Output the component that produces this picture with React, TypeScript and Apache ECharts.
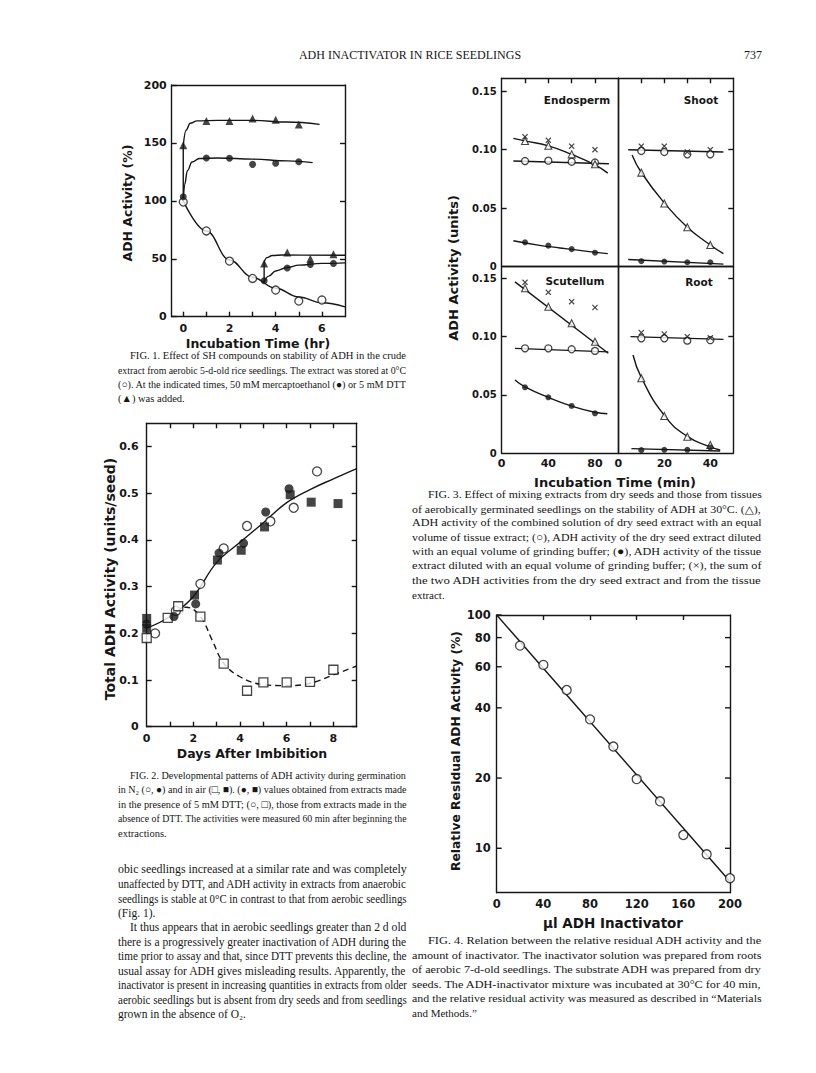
import React, { useEffect, useRef } from "react";
import * as echarts from "echarts";

const SANS = "'DejaVu Sans', 'Liberation Sans', sans-serif";
const SERIF = "'Liberation Serif', 'DejaVu Serif', serif";
const INK = "#161616";

// ---------------- Fig. 1 data ----------------
const f1LabelsX = [0, 2, 4, 6];
const f1TicksX = [0, 1, 2, 3, 4, 5, 6];
const f1TicksY = [0, 50, 100, 150, 200];
const f1Open = [[0, 99], [1, 74], [2, 48], [3, 33], [4, 23], [5, 13.5], [6, 14.4]];
const f1Merc = [[0, 103.6], [1, 137], [2, 136.7], [3, 131.5], [4, 132.4], [5, 133.8]];
const f1Dtt = [[0, 148], [1, 169], [2, 169], [3, 171], [4, 170], [5, 166]];
const f1MercLate = [[3.5, 31], [4.5, 42], [5.5, 45], [6.5, 46]];
const f1DttLate = [[3.5, 46], [4.5, 55.5], [5.5, 50], [6.5, 54]];
const f1OpenCurve = [[0, 100], [1, 74], [2, 49], [3, 34], [4, 24.5], [5, 17], [6, 12], [7, 8.5]];
const f1DttRise = [[0, 100], [0, 148]];
const f1DttCurve = [[0, 148], [0.12, 161], [0.3, 167], [0.6, 169], [1.5, 169.5], [3, 169.5], [4.5, 168], [5.9, 166]];
const f1MercCurve = [[0, 100], [0.06, 114], [0.18, 126], [0.38, 133.5], [0.7, 136.5], [1.5, 137], [3, 136], [4.5, 134.5], [5.6, 133]];
const f1DttLateRise = [[3.5, 30], [3.5, 47]];
const f1DttLateCurve = [[3.5, 47], [3.62, 51], [3.85, 52.8], [4.3, 53.2], [7, 53]];
const f1MercLateCurve = [[3.5, 30], [3.7, 35], [4, 39.5], [4.5, 42.5], [5, 44.5], [6, 46], [7, 46.5]];

// ---------------- Fig. 2 data ----------------
const f2LabelsX = [0, 2, 4, 6, 8];
const f2TicksX = [1, 2, 3, 4, 5, 6, 7, 8];
const f2TicksY = [0, 0.1, 0.2, 0.3, 0.4, 0.5, 0.6];
const f2OpenCircle = [[0.36, 0.2], [1.25, 0.248], [2.3, 0.306], [3.3, 0.382], [4.3, 0.43], [5.3, 0.44], [6.3, 0.469], [7.3, 0.547]];
const f2FilledCircle = [[0, 0.22], [1.17, 0.236], [2.1, 0.263], [3.1, 0.372], [4.15, 0.393], [5.1, 0.46], [6.1, 0.51]];
const f2FilledSquare = [[0, 0.232], [0, 0.211], [2.05, 0.282], [3.03, 0.357], [4.05, 0.378], [5.05, 0.428], [6.15, 0.497], [7.05, 0.481], [8.2, 0.478]];
const f2OpenSquare = [[0, 0.19], [0.9, 0.233], [1.35, 0.258], [2.3, 0.236], [3.3, 0.135], [4.3, 0.077], [5.0, 0.095], [6.0, 0.095], [7.0, 0.096], [8.0, 0.122]];
const f2SolidCurve = [[0, 0.211], [1, 0.236], [2, 0.279], [3, 0.352], [4, 0.395], [5, 0.437], [6, 0.48], [7, 0.508], [8, 0.531], [9, 0.553]];
const f2DashCurve = [[1.2, 0.249], [1.7, 0.256], [2.3, 0.236], [2.8, 0.186], [3.3, 0.136], [4, 0.107], [5, 0.09], [6, 0.088], [7, 0.093], [8, 0.111], [9, 0.13]];

// ---------------- Fig. 3 data ----------------
const f3LabelsY = [0, 0.05, 0.1, 0.15];
const f3TicksY = [0.05, 0.1, 0.15];
const f3LeftTicksX = [20, 40, 60, 80];
const f3LeftLabelsX = [0, 40, 80];
const f3RightTicksX = [10, 20, 30, 40];
const f3RightLabelsX = [0, 20, 40];
// Endosperm
const endoX = [[20, 0.111], [40, 0.108], [60, 0.103], [80, 0.1]];
const endoTri = [[20, 0.1074], [40, 0.1034], [60, 0.096], [80, 0.0875]];
const endoOpen = [[20, 0.0903], [40, 0.0906], [60, 0.0897], [80, 0.089]];
const endoFilled = [[20, 0.0208], [40, 0.018], [60, 0.015], [80, 0.012]];
const endoTriCurve = [[10, 0.1097], [20, 0.1075], [40, 0.1033], [60, 0.096], [80, 0.087], [91, 0.08]];
const endoOpenLine = [[10, 0.0903], [92, 0.088]];
const endoFilledCurve = [[10, 0.0222], [30, 0.0187], [50, 0.016], [70, 0.0135], [91, 0.0112]];
// Shoot
const shootX = [[10, 0.103], [20, 0.103], [30, 0.098], [40, 0.1]];
const shootOpen = [[10, 0.0989], [20, 0.098], [30, 0.096], [40, 0.096]];
const shootTri = [[10, 0.0804], [20, 0.054], [30, 0.0337], [40, 0.0185]];
const shootFilled = [[10, 0.0047], [20, 0.0044], [30, 0.0038], [40, 0.0038]];
const shootOpenLine = [[4.3, 0.1], [45.7, 0.098]];
const shootTriCurve = [[6, 0.0955], [10, 0.0805], [20, 0.0545], [30, 0.0338], [40, 0.0185], [45.7, 0.0112]];
const shootFilledLine = [[4.3, 0.0062], [45.7, 0.0022]];
// Scutellum
const scutX = [[20, 0.1466], [40, 0.138], [60, 0.13], [80, 0.125]];
const scutTri = [[20, 0.1415], [40, 0.1257], [60, 0.1115], [80, 0.0957]];
const scutOpen = [[20, 0.09], [40, 0.09], [60, 0.0892], [80, 0.0878]];
const scutFilled = [[20, 0.0566], [40, 0.048], [60, 0.0406], [80, 0.0343]];
const scutTriLine = [[11.4, 0.147], [91.4, 0.0858]];
const scutOpenLine = [[11.4, 0.09], [91.4, 0.087]];
const scutFilledCurve = [[11.4, 0.0629], [20, 0.057], [40, 0.048], [60, 0.0405], [80, 0.0352], [90.6, 0.0339]];
// Root
const rootX = [[10, 0.1035], [20, 0.1023], [30, 0.1], [40, 0.099]];
const rootOpen = [[10, 0.0986], [20, 0.0986], [30, 0.0966], [40, 0.097]];
const rootTri = [[10, 0.0643], [20, 0.032], [30, 0.0142], [40, 0.0071]];
const rootFilled = [[10, 0.0027], [20, 0.003], [30, 0.003], [40, 0.005]];
const rootOpenLine = [[5.3, 0.1], [45.7, 0.0977]];
const rootTriCurve = [[6.4, 0.0843], [10, 0.065], [20, 0.0325], [30, 0.0145], [40, 0.0055], [44.3, 0.0028]];
const rootFilledLine = [[5.7, 0.004], [44.3, 0.002]];

// ---------------- Fig. 4 data ----------------
const f4Inactivator = [20, 40, 60, 80, 100, 120, 140, 160, 180, 200];
const f4Residual = [73.9, 61.1, 47.7, 35.7, 27.3, 19.8, 15.9, 11.4, 9.42, 7.44];
const f4FitLine = [[0, 100], [200, 7.2]];
const f4LabelsY = [10, 20, 40, 60, 80, 100];
const f4LabelsX = [0, 40, 80, 120, 160, 200];
const f4TicksTopX = [40, 80, 120, 160];

// ---------------- page text ----------------
const header = "ADH INACTIVATOR IN RICE SEEDLINGS";
const pageNo = "737";
const fig1Caption = [
  "FIG. 1. Effect of SH compounds on stability of ADH in the crude",
  "extract from aerobic 5-d-old rice seedlings. The extract was stored at 0°C",
  "(○). At the indicated times, 50 mM mercaptoethanol (●) or 5 mM DTT",
  "(▲) was added.",
];
const fig2Caption = [
  "FIG. 2. Developmental patterns of ADH activity during germination",
  "in N₂ (○, ●) and in air (□, ■). (●, ■) values obtained from extracts made",
  "in the presence of 5 mM DTT; (○, □), those from extracts made in the",
  "absence of DTT. The activities were measured 60 min after beginning the",
  "extractions.",
];
const bodyText = [
  "obic seedlings increased at a similar rate and was completely",
  "unaffected by DTT, and ADH activity in extracts from anaerobic",
  "seedlings is stable at 0°C in contrast to that from aerobic seedlings",
  "(Fig. 1).",
  "It thus appears that in aerobic seedlings greater than 2 d old",
  "there is a progressively greater inactivation of ADH during the",
  "time prior to assay and that, since DTT prevents this decline, the",
  "usual assay for ADH gives misleading results. Apparently, the",
  "inactivator is present in increasing quantities in extracts from older",
  "aerobic seedlings but is absent from dry seeds and from seedlings",
  "grown in the absence of O₂.",
];
const fig3Caption = [
  "FIG. 3. Effect of mixing extracts from dry seeds and those from tissues",
  "of aerobically germinated seedlings on the stability of ADH at 30°C. (△),",
  "ADH activity of the combined solution of dry seed extract with an equal",
  "volume of tissue extract; (○), ADH activity of the dry seed extract diluted",
  "with an equal volume of grinding buffer; (●), ADH activity of the tissue",
  "extract diluted with an equal volume of grinding buffer; (×), the sum of",
  "the two ADH activities from the dry seed extract and from the tissue",
  "extract.",
];
const fig4Caption = [
  "FIG. 4. Relation between the relative residual ADH activity and the",
  "amount of inactivator. The inactivator solution was prepared from roots",
  "of aerobic 7-d-old seedlings. The substrate ADH was prepared from dry",
  "seeds. The ADH-inactivator mixture was incubated at 30°C for 40 min,",
  "and the relative residual activity was measured as described in “Materials",
  "and Methods.”",
];

// ---------------- styling helpers ----------------
const LW = 1.4;
const LINE = { color: INK, width: LW };
const CROSS = "path://M0,1.4L1.4,0L5,3.6L8.6,0L10,1.4L6.4,5L10,8.6L8.6,10L5,6.4L1.4,10L0,8.6L3.6,5Z";

type AxCfg = {
  grid: number;
  min: number;
  max: number;
  pos: string;
  ticks?: number[] | null;
  labels?: number[] | null;
  fmt?: (v: number) => string;
  size?: number;
  margin?: number;
  log?: boolean;
};

function axis(c: AxCfg) {
  const a: any = {
    type: c.log ? "log" : "value",
    gridIndex: c.grid,
    min: c.min,
    max: c.max,
    position: c.pos,
    axisLine: { show: true, onZero: false, lineStyle: LINE },
    axisTick: c.ticks
      ? { show: true, inside: true, length: 5, lineStyle: LINE, customValues: c.ticks }
      : { show: false },
    axisLabel: c.labels
      ? {
          show: true,
          customValues: c.labels,
          formatter: c.fmt || ((v: number) => String(v)),
          color: INK,
          fontFamily: SANS,
          fontWeight: "bold",
          fontSize: c.size || 11,
          margin: c.margin ?? 5,
        }
      : { show: false },
    splitLine: { show: false },
    minorTick: { show: false },
  };
  if (c.log) a.logBase = 10;
  return a;
}

const sym = {
  openCircle: { symbol: "circle", symbolSize: 8, itemStyle: { color: "#fff", borderColor: INK, borderWidth: 1.3 } },
  filledCircle: { symbol: "circle", symbolSize: 7, itemStyle: { color: INK } },
  filledTri: { symbol: "triangle", symbolSize: 8, itemStyle: { color: INK } },
  openTri: { symbol: "triangle", symbolSize: 7, itemStyle: { color: "#fff", borderColor: INK, borderWidth: 1.1 } },
  openSquare: { symbol: "rect", symbolSize: 9, itemStyle: { color: "#fff", borderColor: INK, borderWidth: 1.3 } },
  filledSquare: { symbol: "rect", symbolSize: 9, itemStyle: { color: INK } },
  cross: { symbol: CROSS, symbolSize: 6, itemStyle: { color: INK } },
};

function pts(ax: number, data: number[][], s: any, size?: number) {
  return {
    type: "scatter",
    xAxisIndex: ax,
    yAxisIndex: ax,
    data,
    ...s,
    symbolSize: size || s.symbolSize,
    z: 3,
    silent: true,
  };
}

function curve(ax: number, data: number[][], smooth: number | false = 0.4, dashed = false, monotone = true) {
  const s: any = {
    type: "line",
    xAxisIndex: ax,
    yAxisIndex: ax,
    data,
    smooth,
    symbol: "none",
    lineStyle: { color: INK, width: LW, type: dashed ? [6, 4] : "solid" },
    z: 2,
    silent: true,
  };
  if (monotone) s.smoothMonotone = "x";
  return s;
}

const f3fmt = (v: number) => (v === 0 ? "0" : v.toFixed(2));
const f2fmt = (v: number) => (v === 0 ? "0" : v.toFixed(1));

function buildOption() {
  const grid = [
    { left: 171.7, top: 85, width: 173.3, height: 231.7 }, // fig1
    { left: 146.7, top: 423.3, width: 210, height: 303.4 }, // fig2
    { left: 501.7, top: 78.3, width: 116.6, height: 188.4 }, // endosperm
    { left: 618.3, top: 78.3, width: 115, height: 188.4 }, // shoot
    { left: 501.7, top: 266.7, width: 116.6, height: 186.6 }, // scutellum
    { left: 618.3, top: 266.7, width: 115, height: 186.6 }, // root
    { left: 496.7, top: 615, width: 233.3, height: 277.7 }, // fig4
  ].map((g) => ({ ...g, containLabel: false, outerBoundsMode: "none" }));

  const xAxis = [
    axis({ grid: 0, min: -0.5, max: 7, pos: "bottom", ticks: f1TicksX, labels: f1LabelsX, margin: 6 }),
    axis({ grid: 0, min: -0.5, max: 7, pos: "top" }),
    axis({ grid: 1, min: 0, max: 9, pos: "bottom", ticks: f2TicksX, labels: f2LabelsX, margin: 6 }),
    axis({ grid: 1, min: 0, max: 9, pos: "top", ticks: f2TicksX }),
    axis({ grid: 2, min: 0, max: 100, pos: "bottom" }),
    axis({ grid: 2, min: 0, max: 100, pos: "top", ticks: f3LeftTicksX }),
    axis({ grid: 3, min: 0, max: 50, pos: "bottom" }),
    axis({ grid: 3, min: 0, max: 50, pos: "top", ticks: f3RightTicksX }),
    axis({ grid: 4, min: 0, max: 100, pos: "bottom", labels: f3LeftLabelsX, margin: 5 }),
    axis({ grid: 4, min: 0, max: 100, pos: "top" }),
    axis({ grid: 5, min: 0, max: 50, pos: "bottom", labels: f3RightLabelsX, margin: 5 }),
    axis({ grid: 5, min: 0, max: 50, pos: "top" }),
    axis({ grid: 6, min: 0, max: 200, pos: "bottom", labels: f4LabelsX, margin: 5, size: 11.5 }),
    axis({ grid: 6, min: 0, max: 200, pos: "top", ticks: f4TicksTopX }),
  ];

  const yAxis = [
    axis({ grid: 0, min: 0, max: 200, pos: "left", ticks: f1TicksY, labels: f1TicksY, margin: 5 }),
    axis({ grid: 0, min: 0, max: 200, pos: "right", ticks: [50, 100, 150] }),
    axis({ grid: 1, min: 0, max: 0.65, pos: "left", ticks: f2TicksY, labels: f2TicksY, fmt: f2fmt, margin: 8 }),
    axis({ grid: 1, min: 0, max: 0.65, pos: "right", ticks: f2TicksY }),
    axis({ grid: 2, min: 0, max: 0.161, pos: "left", ticks: f3TicksY, labels: f3LabelsY, fmt: f3fmt, size: 10, margin: 5 }),
    axis({ grid: 2, min: 0, max: 0.161, pos: "right" }),
    axis({ grid: 3, min: 0, max: 0.161, pos: "left" }),
    axis({ grid: 3, min: 0, max: 0.161, pos: "right", ticks: f3TicksY }),
    axis({ grid: 4, min: 0, max: 0.16, pos: "left", ticks: f3TicksY, labels: f3LabelsY, fmt: f3fmt, size: 10, margin: 5 }),
    axis({ grid: 4, min: 0, max: 0.16, pos: "right" }),
    axis({ grid: 5, min: 0, max: 0.16, pos: "left" }),
    axis({ grid: 5, min: 0, max: 0.16, pos: "right", ticks: f3TicksY }),
    axis({ grid: 6, min: 6.45, max: 100, pos: "left", log: true }),
    axis({ grid: 6, min: 6.45, max: 100, pos: "right", log: true }),
  ];

  const f4Points = f4Inactivator.map((x, i) => [x, f4Residual[i]]);

  const series: any[] = [
    // Fig 1
    curve(0, f1OpenCurve),
    curve(0, f1DttRise, false),
    curve(0, f1DttCurve),
    curve(0, f1MercCurve),
    curve(0, f1DttLateRise, false),
    curve(0, f1DttLateCurve),
    curve(0, f1MercLateCurve),
    pts(0, f1Open, sym.openCircle),
    pts(0, f1Merc, sym.filledCircle),
    pts(0, f1Dtt, sym.filledTri),
    pts(0, f1MercLate, sym.filledCircle),
    pts(0, f1DttLate, sym.filledTri),
    // Fig 2
    curve(2, f2SolidCurve, 0.4, false, false),
    curve(2, f2DashCurve, 0.4, true, false),
    pts(2, f2OpenCircle, sym.openCircle, 9),
    pts(2, f2OpenSquare, sym.openSquare),
    pts(2, f2FilledSquare, sym.filledSquare),
    pts(2, f2FilledCircle, sym.filledCircle, 9),
    // Fig 3 endosperm
    curve(4, endoTriCurve, 0.5, false, false),
    curve(4, endoOpenLine, false),
    curve(4, endoFilledCurve, 0.5, false, false),
    pts(4, endoOpen, sym.openCircle, 7),
    pts(4, endoTri, sym.openTri),
    pts(4, endoFilled, sym.filledCircle, 6),
    pts(4, endoX, sym.cross),
    // shoot
    curve(6, shootOpenLine, false),
    curve(6, shootTriCurve, 0.5, false, false),
    curve(6, shootFilledLine, false),
    pts(6, shootOpen, sym.openCircle, 7),
    pts(6, shootTri, sym.openTri),
    pts(6, shootFilled, sym.filledCircle, 6),
    pts(6, shootX, sym.cross),
    // scutellum
    curve(8, scutTriLine, false),
    curve(8, scutOpenLine, false),
    curve(8, scutFilledCurve, 0.5, false, false),
    pts(8, scutOpen, sym.openCircle, 7),
    pts(8, scutTri, sym.openTri),
    pts(8, scutFilled, sym.filledCircle, 6),
    pts(8, scutX, sym.cross),
    // root
    curve(10, rootOpenLine, false),
    curve(10, rootTriCurve, 0.5, false, false),
    curve(10, rootFilledLine, false),
    pts(10, rootOpen, sym.openCircle, 7),
    pts(10, rootTri, sym.openTri),
    pts(10, rootFilled, sym.filledCircle, 6),
    pts(10, rootX, sym.cross),
    // Fig 4
    curve(12, f4FitLine, false),
    pts(12, f4Points, sym.openCircle, 9),
  ];

  return { animation: false, backgroundColor: "#fff", grid, xAxis, yAxis, series };
}

// ---------------- text layout helpers ----------------
let measureCtx: CanvasRenderingContext2D | null = null;
function measure(text: string, size: number, family: string, weight = "normal") {
  if (!measureCtx) measureCtx = document.createElement("canvas").getContext("2d");
  if (!measureCtx) return text.length * size * 0.45;
  measureCtx.font = `${weight} ${size}px ${family}`;
  return measureCtx.measureText(text).width;
}

function paragraphLines(
  lines: string[],
  x0: number,
  x1: number,
  y0: number,
  dy: number,
  size: number,
  indentLines: number[],
  lastLines: number[],
  indent = 12
) {
  return lines.map((t, i) => {
    const x = indentLines.includes(i) ? x0 + indent : x0;
    const el: any = {
      type: "text",
      x,
      y: y0 + i * dy,
      silent: true,
      style: { text: t, fontSize: size, fontFamily: SERIF, fill: INK, align: "left", verticalAlign: "middle" },
    };
    if (!lastLines.includes(i)) {
      const w = measure(t, size, SERIF);
      if (w > 0) el.scaleX = (x1 - x) / w;
    }
    return el;
  });
}

function sansText(text: string, x: number, y: number, size: number, rotate = false) {
  return {
    type: "text",
    x,
    y,
    rotation: rotate ? Math.PI / 2 : 0,
    silent: true,
    style: {
      text,
      fontSize: size,
      fontFamily: SANS,
      fontWeight: "bold",
      fill: INK,
      align: "center",
      verticalAlign: "middle",
    },
  };
}

export default function App() {
  const ref = useRef<HTMLDivElement>(null);
  useEffect(() => {
    document.body.style.margin = "0";
    const el = ref.current!;
    const chart = echarts.init(el, null, { renderer: "svg", width: 816, height: 1073 });
    chart.setOption(buildOption());

    const L0 = 118, L1 = 407, R0 = 412, R1 = 762;
    const g: any[] = [];
    // header
    g.push({
      type: "text", x: 410, y: 55, silent: true,
      style: { text: header, fontSize: 12, fontFamily: SERIF, fill: INK, align: "center", verticalAlign: "middle" },
    });
    g.push({
      type: "text", x: R1, y: 55, silent: true,
      style: { text: pageNo, fontSize: 12, fontFamily: SERIF, fill: INK, align: "right", verticalAlign: "middle" },
    });
    g.push(...paragraphLines(fig1Caption, L0, L1, 356, 14, 10.5, [0], [3]));
    g.push(...paragraphLines(fig2Caption, L0, L1, 775, 14.6, 10.5, [0], [4]));
    g.push(...paragraphLines(bodyText, L0, L1, 870, 14.4, 11.5, [4], [3, 10]));
    g.push(...paragraphLines(fig3Caption, R0, R1, 494.5, 14.3, 11, [0], [7], 16));
    g.push(...paragraphLines(fig4Caption, R0, R1, 941, 14.4, 11, [0], [5], 16));

    // figure titles
    g.push(sansText("ADH Activity (%)", 127, 203, 12.5, true));
    g.push(sansText("Incubation Time (hr)", 258, 343, 12.5));
    g.push(sansText("Total ADH Activity (units/seed)", 110, 579, 14, true));
    g.push(sansText("Days After Imbibition", 252, 753, 12.5));
    g.push(sansText("ADH Activity (units)", 453, 268, 13, true));
    g.push(sansText("Incubation Time (min)", 615, 482, 13));
    g.push(sansText("Endosperm", 577, 100, 10.5));
    g.push(sansText("Shoot", 701, 100, 10.5));
    g.push(sansText("Scutellum", 575, 281, 10.5));
    g.push(sansText("Root", 699, 282, 10.5));
    g.push(sansText("Relative Residual ADH Activity (%)", 456, 751, 12.3, true));
    g.push(sansText("µl ADH Inactivator", 613, 923, 13.5));

    // Fig 4 log-axis ticks and labels, positioned by the log axis itself
    const leftX = 496.7, rightX = 730;
    f4LabelsY.forEach((v) => {
      const py = chart.convertToPixel({ yAxisIndex: 12 } as any, v) as unknown as number;
      if (typeof py !== "number" || isNaN(py)) return;
      g.push({ type: "line", silent: true, shape: { x1: leftX, y1: py, x2: leftX + 5, y2: py }, style: { stroke: INK, lineWidth: LW } });
      if (v !== 100)
        g.push({ type: "line", silent: true, shape: { x1: rightX - 5, y1: py, x2: rightX, y2: py }, style: { stroke: INK, lineWidth: LW } });
      g.push({
        type: "text", x: leftX - 6, y: py, silent: true,
        style: { text: String(v), fontSize: 11.5, fontFamily: SANS, fontWeight: "bold", fill: INK, align: "right", verticalAlign: "middle" },
      });
    });

    chart.setOption({ graphic: { elements: g } });
    return () => chart.dispose();
  }, []);
  return (
    <div
      ref={ref}
      style={{ position: "absolute", left: 0, top: 0, width: 816, height: 1073, background: "#fff" }}
    />
  );
}
